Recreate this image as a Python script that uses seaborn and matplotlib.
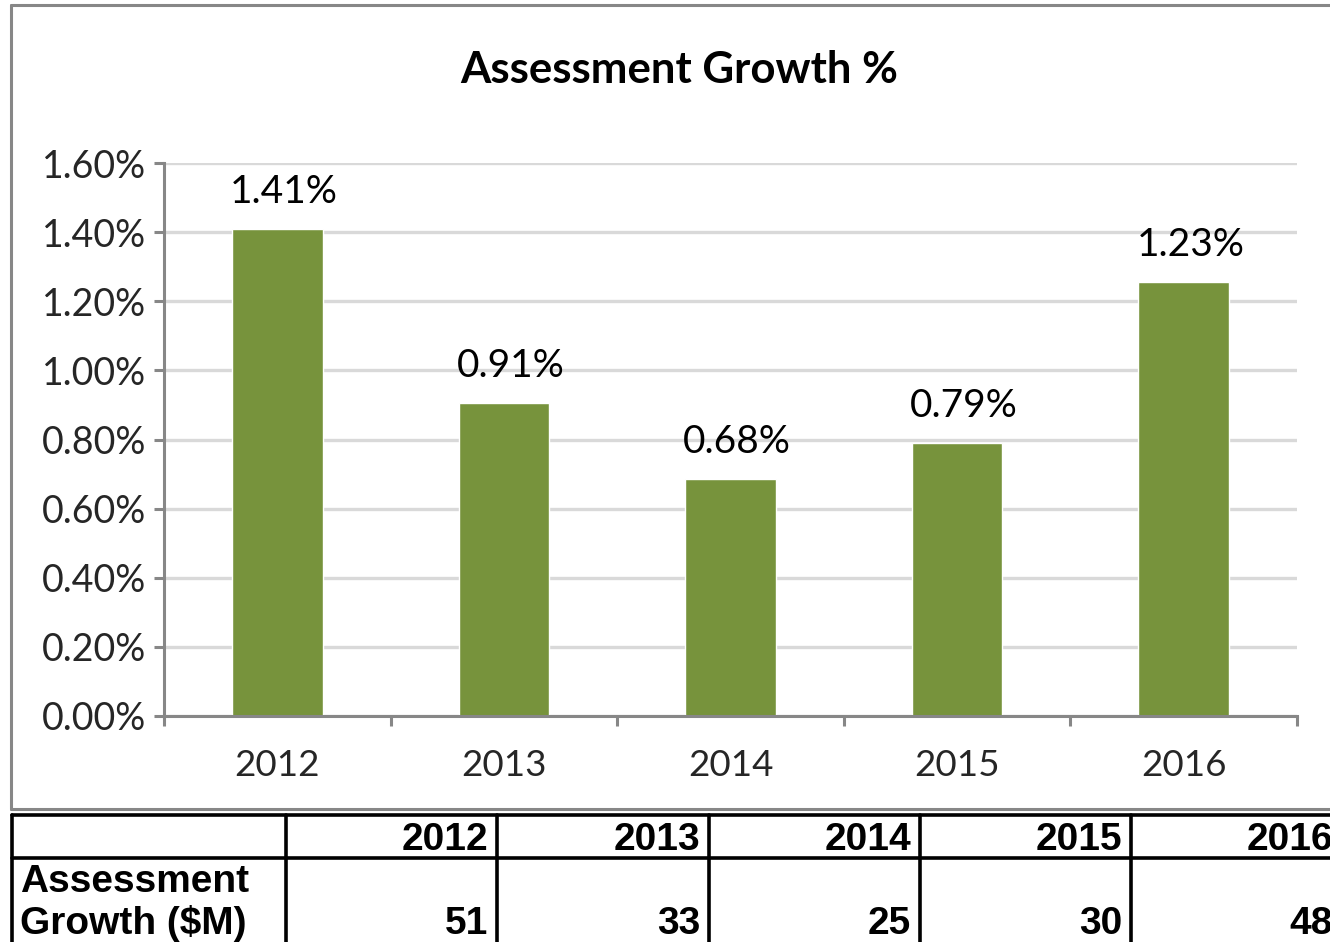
import matplotlib
matplotlib.use("Agg")
import matplotlib.pyplot as plt
import seaborn as sns
import pandas as pd
from matplotlib.lines import Line2D
from matplotlib.ticker import FixedLocator, FuncFormatter

# chart data
years = ["2012", "2013", "2014", "2015", "2016"]
growth_pct = [1.41, 0.906, 0.686, 0.79, 1.256]
growth_labels = ["1.41%", "0.91%", "0.68%", "0.79%", "1.23%"]
y_ticks = [0.0, 0.2, 0.4, 0.6, 0.8, 1.0, 1.2, 1.4, 1.6]

# table data
table_row_label = ["Assessment", "Growth ($M)"]
growth_musd = [51, 33, 25, 30, 48]

W, H = 1330, 942
GREEN = "#77933C"
AXIS_GRAY = "#878787"
GRID_GRAY = "#D9D9D9"

sns.set_style("white")
plt.rcParams["font.family"] = ["Lato", "DejaVu Sans"]

fig = plt.figure(figsize=(W / 100, H / 100), dpi=100)


def fx(px):
    return px / W


def fy(py):
    return 1 - py / H


ax = fig.add_axes([fx(164), fy(716), fx(1297) - fx(164), fy(163) - fy(716)])

df = pd.DataFrame({"year": years, "pct": growth_pct})
sns.barplot(data=df, x="year", y="pct", color=GREEN, saturation=1,
            width=0.4, ax=ax, zorder=3)

for i, (v, lab) in enumerate(zip(growth_pct, growth_labels)):
    ax.text(i + 0.03, v + 0.074, lab, ha="center", va="baseline",
            fontsize=28, color="black")

ax.set_xlim(-0.5, 4.5)
ax.set_ylim(0, 1.6)
ax.set_xlabel("")
ax.set_ylabel("")

ax.yaxis.set_major_locator(FixedLocator(y_ticks))
ax.yaxis.set_major_formatter(FuncFormatter(lambda v, p: f"{v:.2f}%"))
ax.yaxis.grid(True, color=GRID_GRAY, lw=2.4)
ax.set_axisbelow(True)

ax.tick_params(axis="y", direction="out", length=7, width=2.2,
               color=AXIS_GRAY, labelsize=27, pad=6, left=True)
ax.tick_params(axis="x", which="major", length=0, labelsize=26.5, pad=24)
ax.set_xticks([-0.5, 0.5, 1.5, 2.5, 3.5, 4.5], minor=True)
ax.tick_params(axis="x", which="minor", direction="out", length=7,
               width=2.2, color=AXIS_GRAY, bottom=True)

for s in ["top", "right"]:
    ax.spines[s].set_visible(False)
for s in ["left", "bottom"]:
    ax.spines[s].set_color(AXIS_GRAY)
    ax.spines[s].set_linewidth(2.2)
    ax.spines[s].set_zorder(4)

fig.text(fx(679), fy(70), "Assessment Growth %", ha="center", va="center",
         fontsize=31.5, fontweight="bold", color="black")

# chart frame
frame = dict(transform=fig.transFigure, color=AXIS_GRAY, lw=2.2)
fig.add_artist(Line2D([fx(11), fx(11)], [fy(5), fy(809)], **frame))
fig.add_artist(Line2D([fx(11), 1.0], [fy(5), fy(5)], **frame))
fig.add_artist(Line2D([fx(11), 1.0], [fy(809), fy(809)], **frame))

# data table below the chart
col_edges = [12, 286, 497, 709, 920, 1131, 1342]
row_lines = [815, 858]
tline = dict(transform=fig.transFigure, color="black", lw=2.6)
for y in row_lines:
    fig.add_artist(Line2D([fx(12), 1.0], [fy(y), fy(y)], **tline))
for x in col_edges[:-1]:
    fig.add_artist(Line2D([fx(x), fx(x)], [fy(815), 0.0], **tline))

tfont = dict(family=["Liberation Sans", "DejaVu Sans"], fontweight="bold",
             fontsize=28, color="black")
for k, yr in enumerate(years):
    fig.text(fx(col_edges[k + 2] - 9), fy(850), yr, ha="right",
             va="baseline", **tfont)
    fig.text(fx(col_edges[k + 2] - 9), fy(934), str(growth_musd[k]),
             ha="right", va="baseline", **tfont)
fig.text(fx(20), fy(892), table_row_label[0], ha="left", va="baseline", **tfont)
fig.text(fx(20), fy(934), table_row_label[1], ha="left", va="baseline", **tfont)

fig.savefig("out.png", dpi=100)
